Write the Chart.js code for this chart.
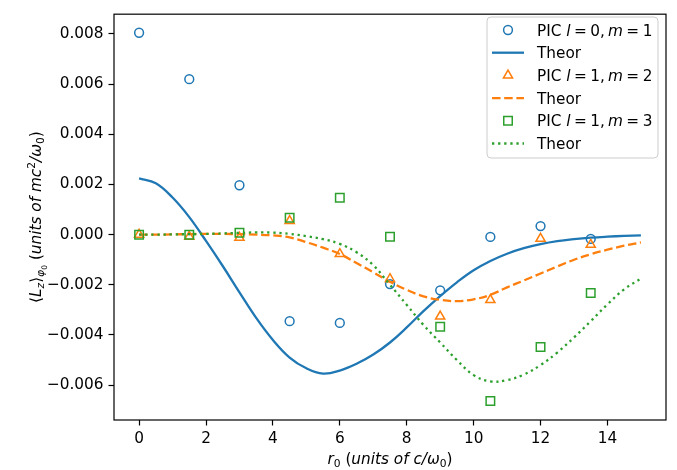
<!DOCTYPE html>
<html>
<head>
<meta charset="utf-8">
<script src="https://cdn.jsdelivr.net/npm/chart.js@4.4.0/dist/chart.umd.min.js"></script>
<style>
  html, body { margin: 0; padding: 0; background: #fff; }
  #wrap { width: 677px; height: 470px; }
</style>
</head>
<body>
<div id="wrap"><canvas id="chart" width="677" height="470"></canvas></div>
<script>
const FONT = '"DejaVu Sans", "Liberation Sans", sans-serif';
const FS = 15.3;

// PIC samples
const xPic  = [0, 1.5, 3, 4.5, 6, 7.5, 9, 10.5, 12, 13.5];
const pic01 = [0.00805, 0.0062, 0.00197, -0.00345, -0.00352, -0.00197, -0.00222, -0.00009, 0.00034, -0.00017];
const pic12 = [0, -0.00008, -0.00012, 0.00055, -0.00077, -0.00177, -0.00326, -0.0026, -0.00016, -0.0004];
const pic13 = [0, 0, 0.00008, 0.00067, 0.00147, -0.00008, -0.00367, -0.00663, -0.00448, -0.00233];

// theory curves, read every 0.5
const xTheor = [0, 0.5, 1, 1.5, 2, 2.5, 3, 3.5, 4, 4.5, 5, 5.5, 6, 6.5, 7, 7.5, 8, 8.5, 9, 9.5, 10,
                10.5, 11, 11.5, 12, 12.5, 13, 13.5, 14, 14.5, 15];
const theor01 = [0.00224, 0.00205, 0.00148, 0.0007, -0.00025, -0.00125, -0.0023, -0.00332, -0.0042, -0.0049, -0.00533,
                 -0.00554, -0.00542, -0.00515, -0.00478, -0.0043, -0.0037, -0.00305, -0.00245, -0.0019, -0.00142,
                 -0.00105, -0.00076, -0.00054, -0.00038, -0.00026, -0.00018, -0.00012, -0.00008, -0.00005, -0.00003];
const theor12 = [0, 0, 0.00001, 0.00002, 0.00003, 0.00003, 0.00002, 0, -0.00003, -0.00011, -0.0003,
                 -0.00052, -0.00077, -0.00113, -0.0015, -0.00188, -0.0022, -0.00246, -0.0026, -0.00265, -0.00258,
                 -0.0024, -0.0021, -0.00183, -0.00155, -0.00127, -0.001, -0.00078, -0.0006, -0.00044, -0.00031];
const theor13 = [0, 0, 0.00001, 0.00002, 0.00003, 0.00005, 0.00007, 0.00009, 0.00008, 0.00003, -0.00006,
                 -0.00018, -0.00037, -0.0007, -0.00122, -0.002, -0.0028, -0.0036, -0.0043, -0.005, -0.0056,
                 -0.00585, -0.0058, -0.00558, -0.0052, -0.0047, -0.0041, -0.00345, -0.00278, -0.00218, -0.00175];

const xTicks = [0, 2, 4, 6, 8, 10, 12, 14];
const yTicks = [-0.006, -0.004, -0.002, 0, 0.002, 0.004, 0.006, 0.008];

const BLUE = '#1f77b4', ORANGE = '#ff7f0e', GREEN = '#2ca02c';

// legend labels as rich text pieces (gap = extra space in px, like mathtext spacing round "=")
const picLabel = (l, m) => [{t: 'PIC '}, {t: 'l', it: true}, {gap: 3.5}, {t: '='}, {gap: 3.5}, {t: l + ','},
                            {gap: 3}, {t: 'm', it: true}, {gap: 3.5}, {t: '='}, {gap: 3.5}, {t: String(m)}];
const theorLabel = [{t: 'Theor'}];

const xTitle = [{t: 'r', it: true}, {t: '0', lvl: 1}, {t: ' ('}, {t: 'units of c/ω', it: true}, {t: '0', lvl: 1}, {t: ')'}];
const yTitle = [{t: '⟨'}, {t: 'L', it: true}, {t: 'z', it: true, lvl: 1}, {t: '⟩'}, {t: 'φ', it: true, lvl: 1},
                {t: '0', lvl: 2}, {t: ' ('}, {t: 'units of mc', it: true}, {t: '2', lvl: -1}, {t: '/ω', it: true},
                {t: '0', lvl: 1}, {t: ')'}];

function pts(xs, ys) {
    return xs.map((x, i) => ({x: x, y: ys[i]}));
}

function segFont(seg, size) {
    const lvl = seg.lvl || 0;
    const s = lvl === 0 ? size : (lvl === 2 ? size * 0.5 : size * 0.7);
    return {font: (seg.it ? 'italic ' : '') + s.toFixed(1) + 'px ' + FONT,
            dy: lvl === 1 ? size * 0.22 : (lvl === 2 ? size * 0.36 : (lvl === -1 ? -size * 0.38 : 0))};
}

function segWidth(ctx, seg, size) {
    if (seg.gap) return seg.gap;
    ctx.font = segFont(seg, size).font;
    return ctx.measureText(seg.t).width;
}

function richWidth(ctx, segs, size) {
    return segs.reduce((w, seg) => w + segWidth(ctx, seg, size), 0);
}

function drawRich(ctx, segs, x, y, size) {
    ctx.textBaseline = 'alphabetic';
    ctx.textAlign = 'left';
    segs.forEach(seg => {
        if (!seg.gap) {
            const f = segFont(seg, size);
            ctx.font = f.font;
            ctx.fillText(seg.t, x, y + f.dy);
        }
        x += segWidth(ctx, seg, size);
    });
}

function drawMarker(ctx, style, x, y, r) {
    ctx.beginPath();
    if (style === 'circle') {
        ctx.arc(x, y, r, 0, Math.PI * 2);
    } else if (style === 'triangle') {
        for (let k = 0; k < 3; k++) {
            const a = k * 2 * Math.PI / 3;
            const px = x + Math.sin(a) * r, py = y - Math.cos(a) * r;
            if (k === 0) ctx.moveTo(px, py); else ctx.lineTo(px, py);
        }
        ctx.closePath();
    } else {
        const h = r * Math.SQRT1_2;
        ctx.rect(x - h, y - h, 2 * h, 2 * h);
    }
    ctx.stroke();
}

// frame, axis titles and legend box
const decorations = {
    id: 'decorations',
    afterDraw(chart) {
        const ctx = chart.ctx;
        const a = chart.chartArea;
        ctx.save();

        // axes frame
        ctx.strokeStyle = '#000';
        ctx.lineWidth = 1.2;
        ctx.strokeRect(a.left, a.top, a.right - a.left, a.bottom - a.top);

        // axis titles
        ctx.fillStyle = '#000';
        const xw = richWidth(ctx, xTitle, FS);
        drawRich(ctx, xTitle, (a.left + a.right) / 2 - xw / 2, 464, FS);
        ctx.save();
        ctx.translate(41, (a.top + a.bottom) / 2);
        ctx.rotate(-Math.PI / 2);
        const yw = richWidth(ctx, yTitle, FS);
        drawRich(ctx, yTitle, -yw / 2, 0, FS);
        ctx.restore();

        // legend
        const bx = 487, by = 17, bw = 171, bh = 141, rad = 4;
        ctx.beginPath();
        ctx.moveTo(bx + rad, by);
        ctx.arcTo(bx + bw, by, bx + bw, by + bh, rad);
        ctx.arcTo(bx + bw, by + bh, bx, by + bh, rad);
        ctx.arcTo(bx, by + bh, bx, by, rad);
        ctx.arcTo(bx, by, bx + bw, by, rad);
        ctx.closePath();
        ctx.fillStyle = 'rgba(255,255,255,0.8)';
        ctx.fill();
        ctx.strokeStyle = '#cccccc';
        ctx.lineWidth = 1;
        ctx.stroke();

        chart.data.datasets.forEach((ds, i) => {
            const cy = 30 + i * 22.7;
            ctx.strokeStyle = ds.borderColor;
            if (ds.showLine) {
                ctx.lineWidth = ds.borderWidth;
                ctx.setLineDash(ds.borderDash || []);
                ctx.beginPath();
                ctx.moveTo(492, cy);
                ctx.lineTo(524, cy);
                ctx.stroke();
                ctx.setLineDash([]);
            } else {
                ctx.lineWidth = ds.pointBorderWidth;
                drawMarker(ctx, ds.pointStyle, 508, cy, ds.pointRadius);
            }
            ctx.fillStyle = '#000';
            drawRich(ctx, ds.richLabel, 537, cy + 5.5, FS);
        });
        ctx.restore();
    }
};

function picSet(label, rich, ys, color, style, r, order) {
    return {
        label: label, richLabel: rich, data: pts(xPic, ys), showLine: false, order: order,
        pointStyle: style, pointRadius: r, pointHoverRadius: r,
        pointBorderColor: color, borderColor: color, pointBorderWidth: 1.5,
        pointBackgroundColor: 'rgba(0,0,0,0)', backgroundColor: 'rgba(0,0,0,0)'
    };
}

function theorSet(ys, color, dash, order) {
    return {
        label: 'Theor', richLabel: theorLabel, data: pts(xTheor, ys), showLine: true, order: order,
        borderColor: color, borderWidth: 2.3, borderDash: dash, pointRadius: 0, pointHoverRadius: 0,
        tension: 0.4, fill: false
    };
}

const ctx = document.getElementById('chart').getContext('2d');
const chart = new Chart(ctx, {
    type: 'scatter',
    data: {
        datasets: [
            picSet('PIC l=0, m=1', picLabel(0, 1), pic01, BLUE, 'circle', 4.4, 6),
            theorSet(theor01, BLUE, [], 5),
            picSet('PIC l=1, m=2', picLabel(1, 2), pic12, ORANGE, 'triangle', 5.3, 4),
            theorSet(theor12, ORANGE, [8.5, 3.7], 3),
            picSet('PIC l=1, m=3', picLabel(1, 3), pic13, GREEN, 'rect', 6, 2),
            theorSet(theor13, GREEN, [2.3, 3.8], 1)
        ]
    },
    options: {
        responsive: false,
        animation: false,
        devicePixelRatio: 1,
        layout: { padding: { left: 0, top: 9, right: 11, bottom: 0 } },
        plugins: { legend: { display: false }, tooltip: { enabled: false } },
        scales: {
            x: {
                type: 'linear', min: -0.75, max: 15.75,
                afterFit: s => { s.height = 50; },
                afterBuildTicks: s => { s.ticks = xTicks.map(v => ({value: v})); },
                ticks: { font: { family: FONT, size: FS }, color: '#000', padding: 4, maxRotation: 0, autoSkip: false,
                         callback: v => String(v) },
                grid: { drawOnChartArea: false, tickLength: 5.5, tickColor: '#000', tickWidth: 1.2 },
                border: { display: false }
            },
            y: {
                type: 'linear', min: -0.00739, max: 0.00879,
                afterFit: s => { s.width = 114; },
                afterBuildTicks: s => { s.ticks = yTicks.map(v => ({value: v})); },
                ticks: { font: { family: FONT, size: FS }, color: '#000', padding: 5, autoSkip: false,
                         callback: v => (v < -1e-9 ? '\u2212' : '') + Math.abs(v).toFixed(3) },
                grid: { drawOnChartArea: false, tickLength: 5.5, tickColor: '#000', tickWidth: 1.2 },
                border: { display: false }
            }
        }
    },
    plugins: [decorations]
});
</script>
</body>
</html>
